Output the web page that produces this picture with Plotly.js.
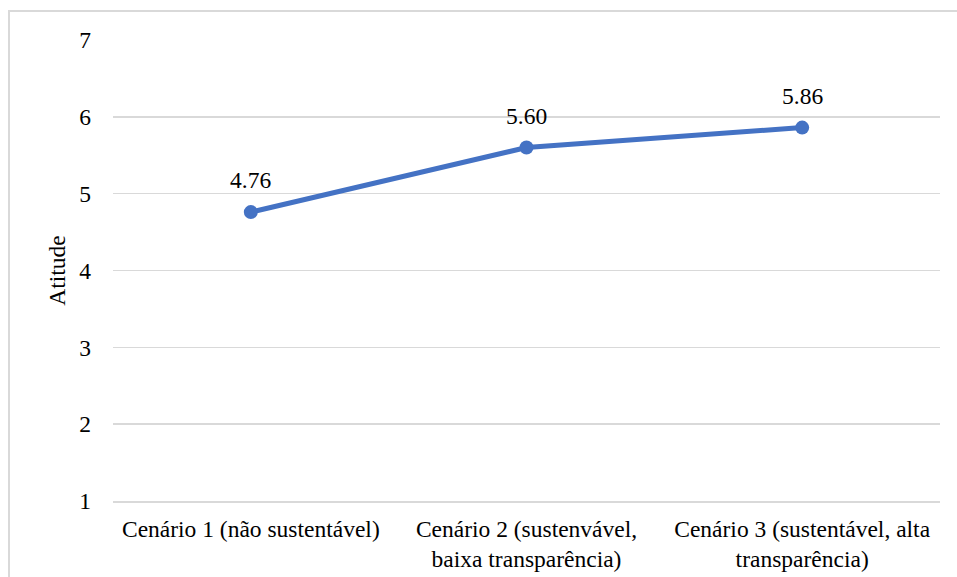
<!DOCTYPE html>
<html>
<head>
<meta charset="utf-8">
<script src="https://cdn.plot.ly/plotly-3.0.1.min.js"></script>
<style>
  html, body { margin: 0; padding: 0; background: #fff; }
  #frame { position: absolute; left: 8px; top: 10px; width: 960px; height: 580px;
           border: 2px solid #d9d9d9; box-sizing: border-box; }
  #chart { position: absolute; left: 0; top: 0; width: 957px; height: 577px; }
</style>
</head>
<body>
<div id="frame"></div>
<div id="chart"></div>
<script>
// Attitude by scenario
const categories = [
  'Cenário 1 (não sustentável)',
  'Cenário 2 (sustenvável,<br>baixa transparência)',
  'Cenário 3 (sustentável, alta<br>transparência)'
];
const atitude = [4.76, 5.60, 5.86];
const yTicks = [1, 2, 3, 4, 5, 6, 7];

const SERIF = 'Liberation Serif';
const mkFont = (size) => ({ family: SERIF, color: '#000000', size: size });

const trace = {
  x: categories,
  y: atitude,
  type: 'scatter',
  mode: 'lines+markers',
  line: { color: '#4472C4', width: 5 },
  marker: { color: '#4472C4', size: 14 },
  cliponaxis: false,
  hoverinfo: 'x+y'
};

// value labels sitting above each point
const labels = categories.map((c, i) => ({
  x: c, y: atitude[i], xref: 'x', yref: 'y',
  text: atitude[i].toFixed(2),
  showarrow: false,
  yanchor: 'bottom',
  yshift: 17,
  font: mkFont(23.5)
}));

const layout = {
  width: 957, height: 577,
  margin: { l: 113, r: 17, t: 40, b: 76 },
  paper_bgcolor: 'rgba(0,0,0,0)',
  plot_bgcolor: 'rgba(0,0,0,0)',
  font: mkFont(23.5),
  showlegend: false,
  annotations: labels,
  xaxis: {
    type: 'category',
    range: [-0.5, 2.5],
    showgrid: false,
    zeroline: false,
    showline: true,
    linecolor: '#d9d9d9',
    linewidth: 1.5,
    ticks: '',
    tickfont: mkFont(23.5),
    ticklabelstandoff: 6
  },
  yaxis: {
    range: [1, 7],
    tickvals: yTicks,
    ticktext: yTicks.map(String),
    showgrid: true,
    gridcolor: '#d9d9d9',
    gridwidth: 1.5,
    zeroline: false,
    showline: false,
    ticks: '',
    tickfont: mkFont(23.5),
    ticklabelstandoff: 21,
    title: { text: 'Atitude', font: mkFont(23.5), standoff: 7 }
  }
};

Plotly.newPlot('chart', [trace], layout, { displayModeBar: false, staticPlot: true });
</script>
</body>
</html>
